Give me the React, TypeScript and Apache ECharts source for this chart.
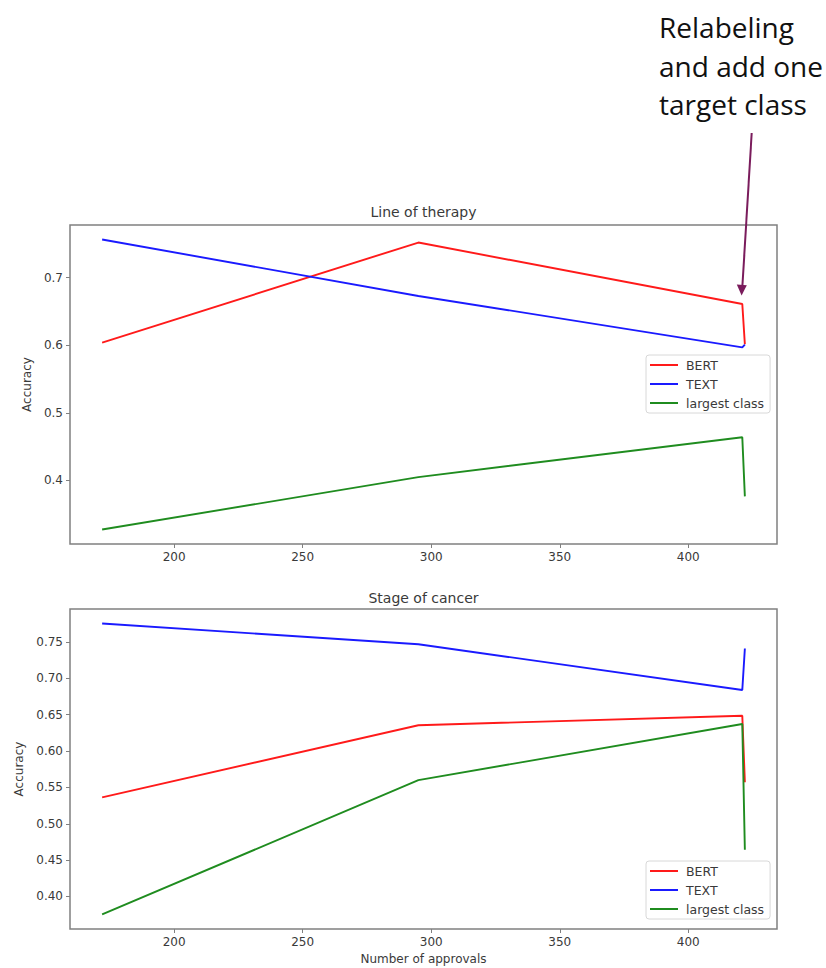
import React, { useEffect, useRef } from "react";
import * as echarts from "echarts";

const approvals = [172, 295, 421, 422];

const therapyBert = [0.604, 0.752, 0.661, 0.6015];
const therapyText = [0.7565, 0.673, 0.597, 0.601];
const therapyLargest = [0.3275, 0.405, 0.464, 0.3765];

const stageBert = [0.5363, 0.6355, 0.6486, 0.557];
const stageText = [0.7753, 0.7468, 0.684, 0.741];
const stageLargest = [0.3753, 0.56, 0.6372, 0.4643];

const xTicks = [200, 250, 300, 350, 400];
const therapyTicks = [0.4, 0.5, 0.6, 0.7];
const stageTicks = [0.4, 0.45, 0.5, 0.55, 0.6, 0.65, 0.7, 0.75];

const seriesNames = ["BERT", "TEXT", "largest class"];
const seriesColors = ["#ff1a1a", "#1a1aff", "#1f8c1f"];

const annotationLines = ["Relabeling", "and add one", "target class"];

const FONT = "DejaVu Sans";
const AXIS_COLOR = "#808080";
const LABEL_COLOR = "#3a3a3a";

function pairs(ys: number[]) {
  return ys.map((y, i) => [approvals[i], y]);
}

function padRange(values: number[]) {
  const lo = Math.min(...values);
  const hi = Math.max(...values);
  const m = (hi - lo) * 0.05;
  return [lo - m, hi + m];
}

export default function App() {
  const ref = useRef<HTMLDivElement>(null);

  useEffect(() => {
    if (!ref.current) return;
    const chart = echarts.init(ref.current, null, { renderer: "svg" });

    const [xMin, xMax] = padRange(approvals);
    const [y1Min, y1Max] = padRange([...therapyBert, ...therapyText, ...therapyLargest]);
    const [y2Min, y2Max] = padRange([...stageBert, ...stageText, ...stageLargest]);

    const grids = [
      { left: 70, top: 225, width: 707, height: 319 },
      { left: 70, top: 609, width: 707, height: 320 },
    ];

    const xAxisBase = (gi: number) => ({
      type: "value",
      gridIndex: gi,
      min: xMin,
      max: xMax,
      axisLine: { show: false },
      splitLine: { show: false },
      axisTick: {
        show: true,
        length: 4,
        customValues: xTicks,
        lineStyle: { color: AXIS_COLOR, width: 1 },
      },
      axisLabel: {
        customValues: xTicks,
        color: LABEL_COLOR,
        fontFamily: FONT,
        fontSize: 12,
        margin: 7,
      },
    });

    const yAxisBase = (gi: number, min: number, max: number, ticks: number[], dec: number, gap: number) => ({
      type: "value",
      gridIndex: gi,
      min,
      max,
      name: "Accuracy",
      nameLocation: "middle",
      nameGap: gap,
      nameTextStyle: { color: LABEL_COLOR, fontFamily: FONT, fontSize: 12 },
      axisLine: { show: false },
      splitLine: { show: false },
      axisTick: {
        show: true,
        length: 4,
        customValues: ticks,
        lineStyle: { color: AXIS_COLOR, width: 1 },
      },
      axisLabel: {
        customValues: ticks,
        color: LABEL_COLOR,
        fontFamily: FONT,
        fontSize: 12,
        margin: 7,
        formatter: (v: number) => v.toFixed(dec),
      },
    });

    const mkSeries = (gi: number, data: number[][], k: number) => ({
      type: "line",
      name: seriesNames[k],
      xAxisIndex: gi,
      yAxisIndex: gi,
      data,
      symbol: "none",
      lineStyle: { color: seriesColors[k], width: 1.9 },
      itemStyle: { color: seriesColors[k] },
    });

    const legendBase = (left: number, top: number) => ({
      data: seriesNames.map((n) => ({ name: n, icon: "rect" })),
      orient: "vertical",
      left,
      top,
      itemWidth: 28,
      itemHeight: 2,
      itemGap: 5,
      padding: [3, 6, 3, 4],
      backgroundColor: "rgba(255,255,255,0.9)",
      borderColor: "#d8d8d8",
      borderWidth: 1,
      borderRadius: 3,
      textStyle: {
        color: LABEL_COLOR,
        fontFamily: FONT,
        fontSize: 12.5,
        lineHeight: 14,
        padding: [0, 0, 0, 3],
      },
      selectedMode: false,
    });

    const titleText = (text: string, y: number) => ({
      type: "text",
      x: 423.5,
      y,
      style: {
        text,
        fill: LABEL_COLOR,
        font: `14px "${FONT}"`,
        textAlign: "center",
        textVerticalAlign: "middle",
      },
    });

    const annotation = annotationLines.map((t, i) => ({
      type: "text",
      x: 659,
      y: 27 + i * 38.5,
      style: {
        text: t,
        fill: "#111111",
        font: `28px "Open Sans"`,
        textAlign: "left",
        textVerticalAlign: "middle",
      },
    }));

    chart.setOption({
      animation: false,
      backgroundColor: "#ffffff",
      grid: grids.map((g) => ({
        ...g,
        show: true,
        borderColor: AXIS_COLOR,
        borderWidth: 1.5,
        backgroundColor: "transparent",
      })),
      xAxis: [
        xAxisBase(0),
        {
          ...xAxisBase(1),
          name: "Number of approvals",
          nameLocation: "middle",
          nameGap: 24,
          nameTextStyle: { color: LABEL_COLOR, fontFamily: FONT, fontSize: 12 },
        },
      ],
      yAxis: [
        yAxisBase(0, y1Min, y1Max, therapyTicks, 1, 36),
        yAxisBase(1, y2Min, y2Max, stageTicks, 2, 44),
      ],
      legend: [legendBase(646, 355), legendBase(646, 861)],
      series: [
        mkSeries(0, pairs(therapyBert), 0),
        mkSeries(0, pairs(therapyText), 1),
        mkSeries(0, pairs(therapyLargest), 2),
        mkSeries(1, pairs(stageBert), 0),
        mkSeries(1, pairs(stageText), 1),
        mkSeries(1, pairs(stageLargest), 2),
      ],
      graphic: [
        titleText("Line of therapy", 212),
        titleText("Stage of cancer", 598),
        ...annotation,
        {
          type: "line",
          shape: { x1: 751.7, y1: 133, x2: 742.4, y2: 286 },
          style: { stroke: "#7a1c5c", lineWidth: 2 },
        },
        {
          type: "polygon",
          shape: { points: [[736.8, 284.5], [746.8, 285.2], [741.6, 295.5]] },
          style: { fill: "#7a1c5c" },
        },
      ],
    });

    return () => chart.dispose();
  }, []);

  return (
    <div
      ref={ref}
      style={{ position: "absolute", left: 0, top: 0, width: 826, height: 968 }}
    />
  );
}
